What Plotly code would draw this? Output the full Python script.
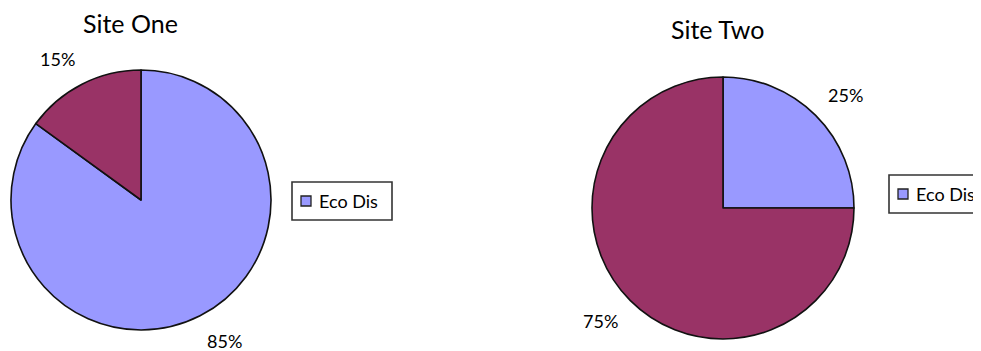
import math
import plotly.graph_objects as go

categories = ["Eco Dis", "Other"]
site_one_values = [85, 15]
site_two_values = [25, 75]
titles = ["Site One", "Site Two"]
colors = ["#9999FF", "#993366"]

W, H = 981, 351
OFF = 8  # page body margin
FONT = "Lato, Open Sans, Arial"


def fx(x):
    return (x - OFF) / W


def fy(y):
    return 1 - (y - OFF) / H


# pie placement in page pixels: (cx, cy, r)
pies = [(141, 200, 130), (723, 208, 131)]
values_list = [site_one_values, site_two_values]
title_pos = [(130, 23), (717, 29)]
legend_boxes = [(292, 182, 392, 220), (889, 175, 995, 213)]

fig = go.Figure()
annotations = []
shapes = []

for (cx, cy, r), vals in zip(pies, values_list):
    fig.add_trace(go.Pie(
        labels=categories,
        values=vals,
        sort=False,
        direction="clockwise",
        rotation=0,
        textinfo="none",
        hoverinfo="label+percent",
        marker=dict(colors=colors, line=dict(color="#111111", width=1.6)),
        domain=dict(x=[fx(cx - r), fx(cx + r)],
                    y=[fy(cy + r), fy(cy - r)]),
        showlegend=False,
    ))
    total = sum(vals)
    cum = 0
    for v in vals:
        mid = (cum + v / 2) / total * 2 * math.pi
        cum += v
        sx, sy = math.sin(mid), math.cos(mid)
        px = cx + 1.15 * r * sx + (16 if sx > 0 else -16)
        py = cy - 1.22 * r * sy
        annotations.append(dict(
            x=fx(px), y=fy(py), xref="paper", yref="paper",
            text=f"{round(v / total * 100)}%", showarrow=False,
            font=dict(family=FONT, size=18, color="#000000"),
            xanchor="center", yanchor="middle"))

for (tx, ty), title in zip(title_pos, titles):
    annotations.append(dict(x=fx(tx), y=fy(ty), xref="paper", yref="paper",
                            text=title, showarrow=False,
                            xanchor="center", yanchor="middle",
                            font=dict(family=FONT, size=25, color="#000000")))

# legends (first category only, as in reference)
for (x0, y0, x1, y1) in legend_boxes:
    shapes.append(dict(type="rect", xref="paper", yref="paper",
                       x0=fx(x0), x1=fx(x1), y0=fy(y1), y1=fy(y0),
                       line=dict(color="#333333", width=1.6), fillcolor="white"))
    my = (y0 + y1) / 2
    shapes.append(dict(type="rect", xref="paper", yref="paper",
                       x0=fx(x0 + 9), x1=fx(x0 + 19),
                       y0=fy(my + 5), y1=fy(my - 5),
                       line=dict(color="#222222", width=1.3), fillcolor=colors[0]))
    annotations.append(dict(x=fx(x0 + 25), y=fy(my), xref="paper", yref="paper",
                            text=categories[0], showarrow=False, xanchor="left",
                            yanchor="middle",
                            font=dict(family=FONT, size=18, color="#000000")))

fig.update_layout(
    width=W, height=H,
    margin=dict(l=0, r=0, t=0, b=0),
    paper_bgcolor="white", plot_bgcolor="white",
    annotations=annotations, shapes=shapes,
)

fig.write_html("out.html")
